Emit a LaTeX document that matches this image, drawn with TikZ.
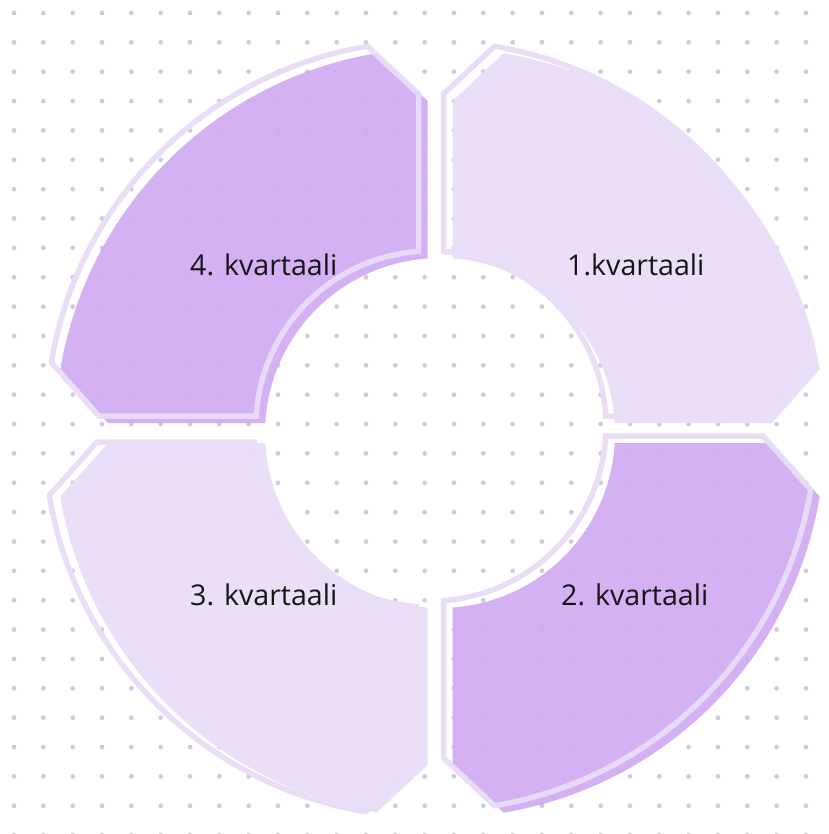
\documentclass[tikz,border=0pt]{standalone}
\usepackage{fontspec}
\setmainfont{Open Sans}
\definecolor{dotc}{HTML}{C8CFD9}
\definecolor{lightlav}{HTML}{EADDF7}
\definecolor{darklav}{HTML}{D0ACF3}
\definecolor{outl}{HTML}{E9DDF7}
\definecolor{txt}{HTML}{151515}
\newcommand\qpiece[5]{%
  \begin{scope}[shift={(#1,#2)},xscale=#3,yscale=#4]
    \path[#5] (12.5,174.55) -- (12.5,332) -- (80.5:385)
      arc[start angle=80.5,end angle=9.5,radius=385]
      -- (332,10) -- (174.71,10)
      arc[start angle=3.28,end angle=85.9,radius=175] -- cycle;
  \end{scope}}
\tikzset{
  lightfill/.style={fill=lightlav,fill opacity=0.93},
  darkfill/.style={fill=darklav,fill opacity=0.93},
  outline/.style={draw=outl,line width=5.5pt,draw opacity=0.95},
  label/.style={font=\fontsize{28.6}{32}\selectfont,text=txt,inner sep=0pt,anchor=base west}
}
\begin{document}
\begin{tikzpicture}[x=1pt,y=-1pt]
\useasboundingbox (0,0) rectangle (828,834);
\fill[white] (0,0) rectangle (828,834);
% dot grid
\foreach \i in {0,...,27}{
  \foreach \j in {0,...,28}{
    \fill[dotc] ({14+29.33*\i},{13+29.36*\j}) circle (2.4);
  }
}
% 1. quarter (top right, light)
\qpiece{440}{433}{1}{-1}{lightfill}
\qpiece{431}{426}{1}{-1}{outline}
% 2. quarter (bottom right, dark)
\qpiece{440}{433}{1}{1}{darkfill}
\qpiece{431}{426}{1}{1}{outline}
% 3. quarter (bottom left, light)
\qpiece{440}{433}{-1}{1}{lightfill}
\qpiece{429}{432}{-1}{1}{outline}
% 4. quarter (top left, dark)
\qpiece{440}{433}{-1}{-1}{darkfill}
\qpiece{431}{426}{-1}{-1}{outline}
% labels
\node[label] (q1) at (567,275) {1.kvartaali};
\node[label] (q2) at (561,605) {2. kvartaali};
\node[label] (q3) at (190,605) {3. kvartaali};
\node[label] (q4) at (190,275) {4. kvartaali};
\end{tikzpicture}
\end{document}
